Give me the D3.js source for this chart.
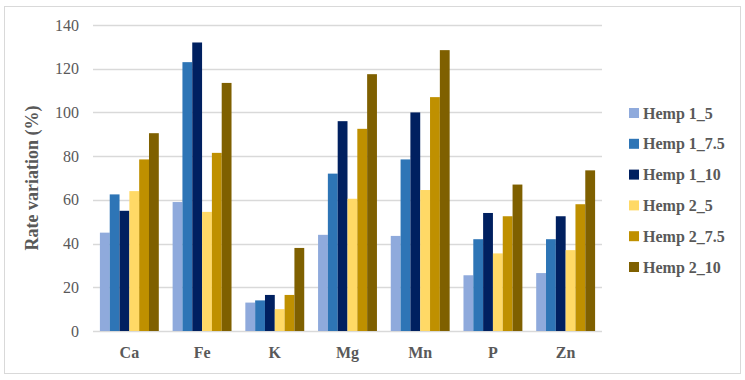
<!DOCTYPE html>
<html>
<head>
<meta charset="utf-8">
<script src="https://cdn.jsdelivr.net/npm/d3@7"></script>
<style>
  body { margin: 0; background: #fff; }
  text { font-family: "Palatino Linotype", "Book Antiqua", "Liberation Serif", "DejaVu Serif", serif; fill: #595959; }
</style>
</head>
<body>
<svg id="chart" width="745" height="380"></svg>
<script>
const categories = ['Ca', 'Fe', 'K', 'Mg', 'Mn', 'P', 'Zn']
const seriesNames = ['Hemp 1_5', 'Hemp 1_7.5', 'Hemp 1_10', 'Hemp 2_5', 'Hemp 2_7.5', 'Hemp 2_10']
const hemp1_5 = [45, 59, 13, 44, 43.5, 25.5, 26.5]
const hemp1_75 = [62.5, 123, 14, 72, 78.5, 42, 42]
const hemp1_10 = [55, 132, 16.5, 96, 100, 54, 52.5]
const hemp2_5 = [64, 54.5, 10, 60.5, 64.5, 35.5, 37]
const hemp2_75 = [78.5, 81.5, 16.5, 92.5, 107, 52.5, 58]
const hemp2_10 = [90.5, 113.5, 38, 117.5, 128.5, 67, 73.5]
const yTicks = [0, 20, 40, 60, 80, 100, 120, 140]
const colors = ['#8FAADC', '#2E75B6', '#002060', '#FFD966', '#BF9000', '#7F6000']

const series = [hemp1_5, hemp1_75, hemp1_10, hemp2_5, hemp2_75, hemp2_10]

const svg = d3.select('#chart')

// outer frame
svg.append('rect')
  .attr('x', 4.5).attr('y', 6.5).attr('width', 736).attr('height', 367)
  .attr('fill', 'none').attr('stroke', '#d9d9d9')

const plotL = 93, plotR = 602, plotT = 25, plotB = 331

const x0 = d3.scaleBand().domain(categories).range([plotL, plotR]).paddingInner(0.19).paddingOuter(0.095)
const x1 = d3.scaleBand().domain(seriesNames).range([0, x0.bandwidth()])
const y = d3.scaleLinear().domain([0, 140]).range([plotB, plotT])

// gridlines
svg.append('g')
  .selectAll('line')
  .data(yTicks)
  .enter().append('line')
  .attr('x1', plotL).attr('x2', plotR)
  .attr('y1', d => Math.round(y(d)) + 0.5).attr('y2', d => Math.round(y(d)) + 0.5)
  .attr('stroke', '#d9d9d9').attr('stroke-width', 1.3)

// bars
categories.forEach((c, ci) => {
  svg.append('g')
    .selectAll('rect')
    .data(series.map((s, si) => ({ name: seriesNames[si], v: s[ci], color: colors[si] })))
    .enter().append('rect')
    .attr('x', d => x0(c) + x1(d.name))
    .attr('width', x1.bandwidth())
    .attr('y', d => y(d.v))
    .attr('height', d => plotB - y(d.v))
    .attr('fill', d => d.color)
})

// y axis labels
const yAxis = d3.axisLeft(y).tickValues(yTicks).tickSize(0).tickPadding(14)
const yg = svg.append('g').attr('transform', `translate(${plotL},0)`).call(yAxis)
yg.select('.domain').remove()
yg.selectAll('text').style('font-size', '16px').style('font-family', null).attr('fill', '#595959')

// x axis labels
const xAxis = d3.axisBottom(x0).tickSize(0).tickPadding(16)
const xg = svg.append('g').attr('transform', `translate(0,${plotB})`).call(xAxis)
xg.select('.domain').remove()
xg.selectAll('text').style('font-size', '16px').style('font-weight', 'bold').attr('fill', '#595959')
svg.selectAll('.tick text').attr('font-family', null)

// y title
svg.append('text')
  .attr('transform', `translate(38,${(plotT + plotB) / 2}) rotate(-90)`)
  .attr('text-anchor', 'middle')
  .style('font-size', '18px')
  .style('font-weight', 'bold')
  .text('Rate variation (%)')

// legend
const legend = svg.append('g').attr('transform', 'translate(629,113)')
seriesNames.forEach((n, i) => {
  const g = legend.append('g').attr('transform', `translate(0,${i * 30.8})`)
  g.append('rect').attr('x', 0).attr('y', -5).attr('width', 10).attr('height', 10).attr('fill', colors[i])
  g.append('text').attr('x', 14).attr('y', 0).attr('dy', '0.35em')
    .style('font-size', '16px').style('font-weight', 'bold').text(n)
})
</script>
</body>
</html>
